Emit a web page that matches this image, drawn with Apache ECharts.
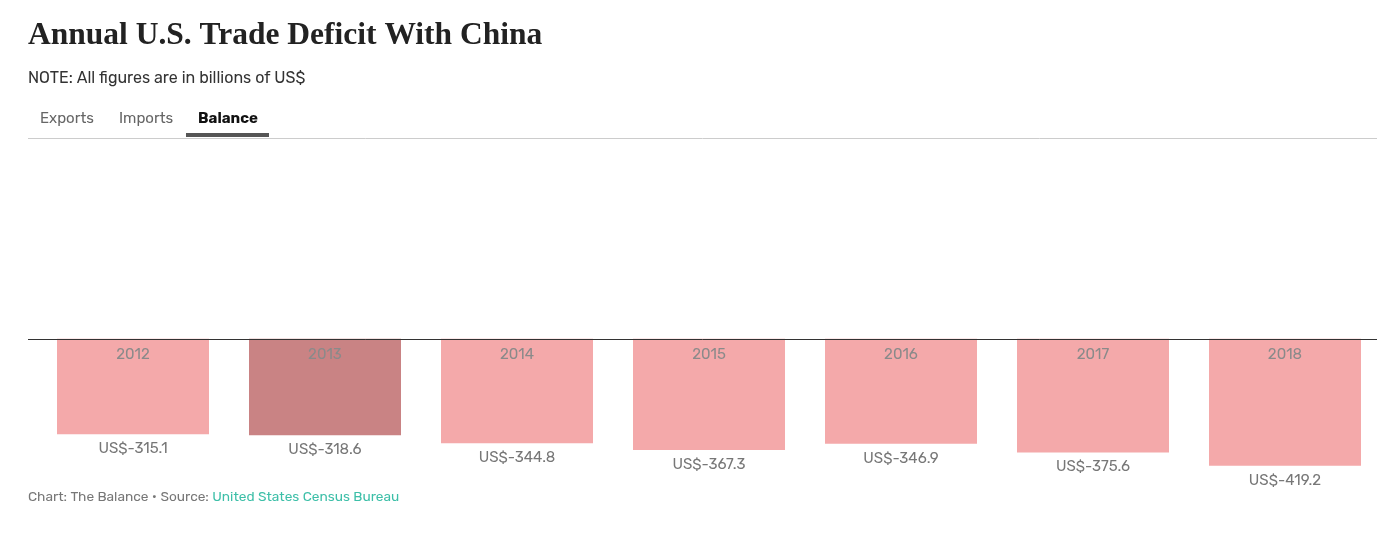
<!DOCTYPE html>
<html>
<head>
<meta charset="utf-8">
<script src="https://cdn.jsdelivr.net/npm/echarts@6/dist/echarts.min.js"></script>
<style>
html,body{margin:0;padding:0;background:#fff;}
#chart{width:1382px;height:533px;}
</style>
</head>
<body>
<div id="chart"></div>
<script>
const years = ['2012','2013','2014','2015','2016','2017','2018'];
const balance = [-315.1, -318.6, -344.8, -367.3, -346.9, -375.6, -419.2];
const highlighted = '2013';
const tabs = ['Exports','Imports','Balance'];

const chart = echarts.init(document.getElementById('chart'), null, {renderer:'canvas'});
const sans = 'Rubik, "Open Sans", Roboto, sans-serif';

const option = {
  animation: false,
  title: [
    {text:'Annual U.S. Trade Deficit With China', left:28, top:20, padding:0,
     textStyle:{fontFamily:'"Liberation Serif", "DejaVu Serif", serif', fontSize:31.5, fontWeight:'bold', color:'#222'}},
    {text:'NOTE: All figures are in billions of US$', left:28, top:70, padding:0,
     textStyle:{fontFamily:sans, fontSize:16, fontWeight:'normal', color:'#333'}}
  ],
  grid: {left:37, right:1, top:139, bottom:67},
  xAxis: {
    type:'category', data:years,
    axisLine:{show:false}, axisTick:{show:false}, axisLabel:{show:false}
  },
  yAxis: {type:'value', min:-420, max:660, show:false, splitLine:{show:false}},
  series: [{
    type:'bar', data: balance.map((v,i)=>({value:v, itemStyle:{color: years[i]===highlighted ? '#c98384' : '#f4a9aa'}})),
    barWidth:152,
    z:1,
    label:{show:true, position:'bottom', distance:7, color:'#777', fontFamily:sans, fontSize:15,
      formatter:p=>'US$' + p.value.toFixed(1)}
  }, {
    type:'bar', data: balance, barWidth:152, barGap:'-100%', z:2,
    itemStyle:{color:'rgba(0,0,0,0)'},
    label:{show:true, position:'insideTop', distance:8, color:'#8a8a8a', fontFamily:sans, fontSize:15,
      formatter:p=>p.name}
  }]
};
chart.setOption(option);

const zeroY = chart.convertToPixel({yAxisIndex:0}, 0);
chart.setOption({
  graphic: [
    {type:'text', left:40, top:111, style:{text:tabs[0], font:'15px '+sans, fill:'#666'}},
    {type:'text', left:119, top:111, style:{text:tabs[1], font:'15px '+sans, fill:'#666'}},
    {type:'text', left:198, top:111, style:{text:tabs[2], font:'bold 15px '+sans, fill:'#111'}},
    {type:'rect', shape:{x:186, y:133, width:83, height:4}, style:{fill:'#555'}},
    {type:'line', shape:{x1:28, y1:138.5, x2:1377, y2:138.5}, style:{stroke:'#ccc', lineWidth:1}, z:5},
    {type:'line', shape:{x1:28, y1:Math.round(zeroY)+0.5, x2:1377, y2:Math.round(zeroY)+0.5}, style:{stroke:'#333', lineWidth:1}, z:10},
    {type:'text', left:28, top:490, style:{rich:{a:{fill:'#777', font:'13.7px '+sans}, b:{fill:'#3dbfa8', font:'13.7px '+sans}}, text:'{a|Chart: The Balance • Source: }{b|United States Census Bureau}'}}
  ]
});
</script>
</body>
</html>
